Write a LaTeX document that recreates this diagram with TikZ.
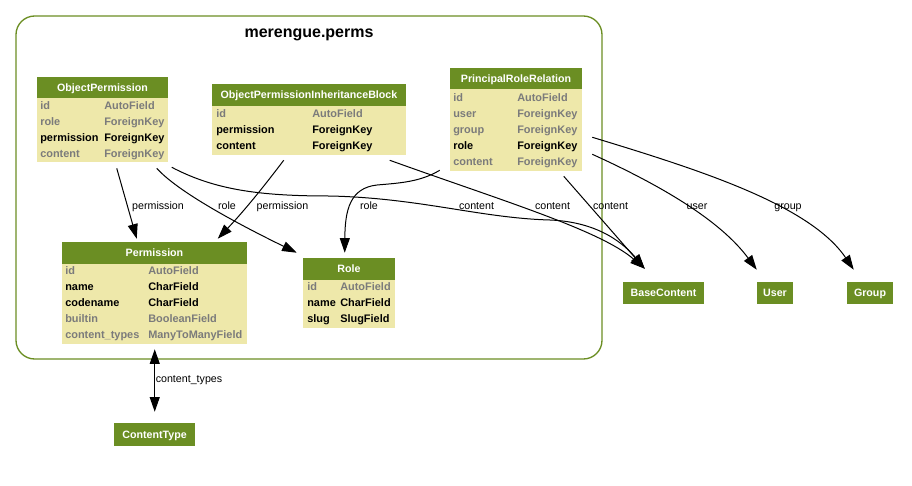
\documentclass[tikz,border=0pt]{standalone}
\usepackage{fontspec}
\setmainfont{Liberation Sans}
\usetikzlibrary{arrows.meta,fit}
\definecolor{drab}{HTML}{6B8E23}
\definecolor{pale}{HTML}{EEE8AA}
\definecolor{fgray}{HTML}{7B7B7B}
\newcommand\rowpair[7]{%
  \node[#7] (#1-n) at (#2,#4) {#5};
  \node[#7] (#1-t) at (#3,#4) {#6};}
\newcommand\hdrbox[3]{%
  \node[hfill, fit={#2}] (#1) {};
  \node[htext] (#1-l) at (#1.center) {#3};}
\begin{document}
\begin{tikzpicture}[x=0.75pt,y=-0.75pt,
  hfill/.style={fill=drab, inner sep=0pt},
  htext/.style={text=white, font=\bfseries\fontsize{8}{9}\selectfont, inner sep=0pt, text height=5.8pt, text depth=0pt, anchor=center},
  tbody/.style={fill=pale, inner sep=0pt},
  gf/.style={anchor=base west, inner sep=0pt, text=fgray, font=\bfseries\fontsize{8.2}{9}\selectfont},
  bf/.style={gf, text=black},
  elab/.style={anchor=base, inner sep=0pt, font=\fontsize{8}{9}\selectfont},
  arr/.style={draw, line width=0.75pt, -{Triangle[length=11pt,width=7.5pt]}},
  darr/.style={draw, line width=0.75pt, {Triangle[length=11pt,width=7.5pt]}-{Triangle[length=11pt,width=7.5pt]}}]
\useasboundingbox (0,0) rectangle (912,485);

% cluster
\node[fit={(16,16)(602,359)}, draw=drab, line width=1pt, rounded corners=14pt, inner sep=0pt] (cluster) {};
\node[anchor=base, inner sep=0pt, font=\bfseries\fontsize{12}{14}\selectfont] (ctitle) at (309,38) {merengue.perms};

% ObjectPermission
\node[tbody, fit={(37,98)(168,162)}] (opb) {};
\hdrbox{op}{(37,77)(168,98)}{ObjectPermission}
\rowpair{op1}{40}{104}{109}{id}{AutoField}{gf}
\rowpair{op2}{40}{104}{125}{role}{ForeignKey}{gf}
\rowpair{op3}{40}{104}{141}{permission}{ForeignKey}{bf}
\rowpair{op4}{40}{104}{157}{content}{ForeignKey}{gf}

% ObjectPermissionInheritanceBlock
\node[tbody, fit={(212,106)(406,155)}] (ob) {};
\hdrbox{oh}{(212,84)(406,106)}{ObjectPermissionInheritanceBlock}
\rowpair{ob1}{216}{312}{117}{id}{AutoField}{gf}
\rowpair{ob2}{216}{312}{133}{permission}{ForeignKey}{bf}
\rowpair{ob3}{216}{312}{149}{content}{ForeignKey}{bf}

% PrincipalRoleRelation
\node[tbody, fit={(450,89)(582,171)}] (prb) {};
\hdrbox{prh}{(450,68)(582,89)}{PrincipalRoleRelation}
\rowpair{pr1}{453}{517}{101}{id}{AutoField}{gf}
\rowpair{pr2}{453}{517}{117}{user}{ForeignKey}{gf}
\rowpair{pr3}{453}{517}{133}{group}{ForeignKey}{gf}
\rowpair{pr4}{453}{517}{149}{role}{ForeignKey}{bf}
\rowpair{pr5}{453}{517}{165}{content}{ForeignKey}{gf}

% Permission
\node[tbody, fit={(62,264)(247,344)}] (pmb) {};
\hdrbox{pm}{(62,242)(247,264)}{Permission}
\rowpair{pm1}{65}{148}{274.5}{id}{AutoField}{gf}
\rowpair{pm2}{65}{148}{290.5}{name}{CharField}{bf}
\rowpair{pm3}{65}{148}{306.5}{codename}{CharField}{bf}
\rowpair{pm4}{65}{148}{322.5}{builtin}{BooleanField}{gf}
\rowpair{pm5}{65}{148}{338}{content\_types}{ManyToManyField}{gf}

% Role
\node[tbody, fit={(303,280)(395,328)}] (rob) {};
\hdrbox{ro}{(303,258)(395,280)}{Role}
\rowpair{ro1}{307}{340}{290.5}{id}{AutoField}{gf}
\rowpair{ro2}{307}{340}{306}{name}{CharField}{bf}
\rowpair{ro3}{307}{340}{322}{slug}{SlugField}{bf}

% external models
\hdrbox{bc}{(623,282)(704,304)}{BaseContent}
\hdrbox{us}{(757,282)(793,304)}{User}
\hdrbox{gr}{(847,282)(893,304)}{Group}
\hdrbox{ct}{(114,423)(195,446)}{ContentType}

% edges
\draw[arr] ([shift={(80,6)}]opb.south west) -- ([shift={(75,-3)}]pm.north west);
\draw[arr] ([shift={(120,6)}]opb.south west) .. controls (178,192) and (238,224) .. ([shift={(-6,-5)}]ro.north west);
\draw[arr] ([shift={(135,5)}]opb.south west) .. controls (215,190) and (260,196) .. (330,196)
   .. controls (420,198) and (480,218) .. (550,220)
   .. controls (600,222) and (625,245) .. ([shift={(22,-13)}]bc.north west);
\draw[arr] ([shift={(72,5)}]ob.south west) .. controls (265,185) and (245,210) .. ([shift={(156,-3)}]pm.north west);
\draw[arr] ([shift={(178,5)}]ob.south west) .. controls (500,200) and (600,230) .. ([shift={(22,-13)}]bc.north west);
\draw[arr] ([shift={(-10,-1)}]prb.south west) .. controls (420,182) and (400,183) .. (377,185)
   .. controls (350,188) and (345,210) .. ([shift={(42,-5)}]ro.north west);
\draw[arr] ([shift={(114,5)}]prb.south west) -- ([shift={(22,-13)}]bc.north west);
\draw[arr] ([shift={(10,-17)}]prb.south east) .. controls (660,185) and (720,220) .. ([shift={(0,-12)}]us.north west);
\draw[arr] ([shift={(10,-34)}]prb.south east) .. controls (700,170) and (810,205) .. ([shift={(7,-12)}]gr.north west);
\draw[darr] ([shift={(93,5)}]pmb.south west) -- ([shift={(41,-11)}]ct.north west);

% edge labels
\node[elab] (l1) at (158,209.5) {permission};
\node[elab] (l2) at (227,209.5) {role};
\node[elab] (l3) at (282.5,209.5) {permission};
\node[elab] (l4) at (369,209.5) {role};
\node[elab] (l5) at (476.5,209.5) {content};
\node[elab] (l6) at (552.5,209.5) {content};
\node[elab] (l7) at (610.5,209.5) {content};
\node[elab] (l8) at (697,209.5) {user};
\node[elab] (l9) at (788,209.5) {group};
\node[elab] (l10) at (189,382.5) {content\_types};
\end{tikzpicture}
\end{document}
